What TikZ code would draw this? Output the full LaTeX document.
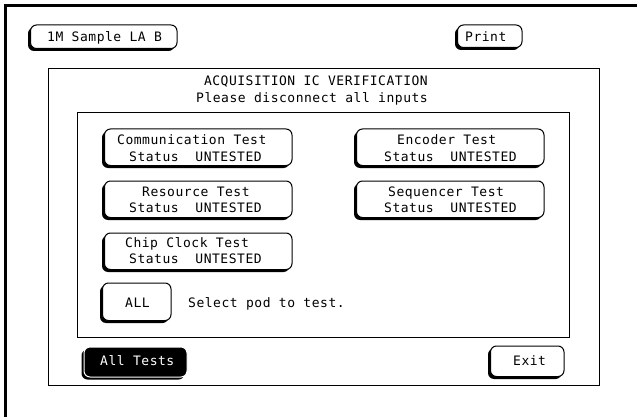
\documentclass[tikz,border=0pt]{standalone}
\usepackage{fontspec}
\setmonofont[LetterSpace=4]{DejaVu Sans Mono}
\usetikzlibrary{shadows,fit}
\begin{document}
\begin{tikzpicture}[x=1pt,y=-1pt,
  lbl/.style={font=\ttfamily\fontsize{13}{15}\selectfont, inner sep=0pt, anchor=base west},
  btn/.style={draw=black, line width=1pt, fill=white, rounded corners=6pt, inner sep=0pt,
    drop shadow={shadow xshift=-2.5pt, shadow yshift=-2.5pt, fill=black, opacity=1}},
  darkbtn/.style={btn, fill=black, draw=white},
  panel/.style={draw=black, line width=1pt},
  frame/.style={draw=black, line width=3pt}
  ]
\useasboundingbox (0,0) rectangle (637,417);
% outer frame (top and left edges)
\coordinate (ftr) at (637,5.5);
\coordinate (ftl) at (5.5,5.5);
\coordinate (fbl) at (5.5,417);
\draw[frame] (ftr) -- (ftl) -- (fbl);

% top buttons
\node[btn, fit={(30.5,25) (177,48.5)}] (mode) {};
\node[lbl] (modet) at (47,42) {1M Sample LA B};
\node[btn, fit={(457.5,25) (522,47.5)}] (print) {};
\node[lbl] (printt) at (465,42) {Print};

% panels
\node[panel, inner sep=0pt, fit={(48,69) (599,385)}] (outer) {};
\node[panel, inner sep=0pt, fit={(77,113) (569,337)}] (inner) {};
\node[lbl, anchor=base east] (title1) at (428,86) {ACQUISITION IC VERIFICATION};
\node[lbl, anchor=base east] (title2) at (428,103) {Please disconnect all inputs};

% test buttons
\node[btn, fit={(104.5,129) (292,165.5)}] (comm) {};
\node[lbl] (comm1) at (117,145) {Communication Test};
\node[lbl] (comm2) at (129,161) {Status~~UNTESTED};

\node[btn, fit={(104.5,181) (292,217.5)}] (res) {};
\node[lbl] (res1) at (142,196) {Resource Test};
\node[lbl] (res2) at (129,212) {Status~~UNTESTED};

\node[btn, fit={(104.5,233) (292,269.5)}] (chip) {};
\node[lbl] (chip1) at (125,247) {Chip Clock Test};
\node[lbl] (chip2) at (129,263) {Status~~UNTESTED};

\node[btn, fit={(356.5,129) (544,165.5)}] (enc) {};
\node[lbl] (enc1) at (397,145) {Encoder Test};
\node[lbl] (enc2) at (384,161) {Status~~UNTESTED};

\node[btn, fit={(356.5,181) (544,217.5)}] (seq) {};
\node[lbl] (seq1) at (388,196) {Sequencer Test};
\node[lbl] (seq2) at (384,212) {Status~~UNTESTED};

\node[btn, fit={(102.5,283) (171,320.5)}] (all) {};
\node[lbl] (allt) at (125,307) {ALL};
\node[lbl] (sel) at (188,307) {Select pod to test.};

% bottom buttons
\node[darkbtn, fit={(84,347) (187,377)}] (alltests) {};
\node[lbl, text=white] (alltestst) at (100,365) {All Tests};
\node[btn, fit={(490.5,346) (564,376.5)}] (exit) {};
\node[lbl] (exitt) at (513,365) {Exit};
\end{tikzpicture}
\end{document}
